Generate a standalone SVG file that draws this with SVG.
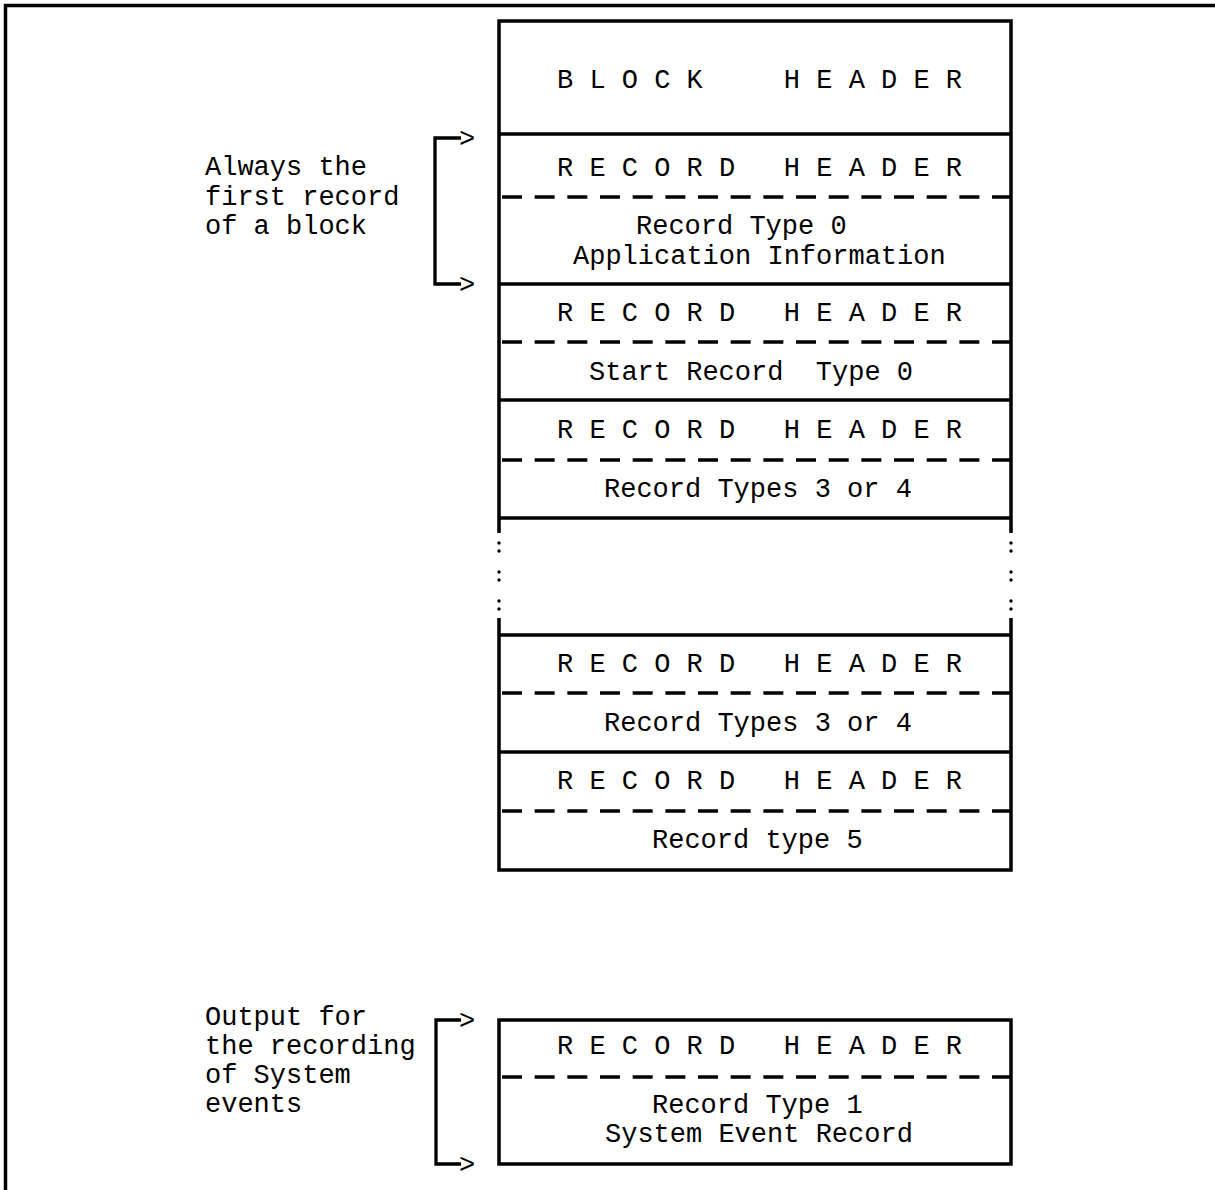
<svg xmlns="http://www.w3.org/2000/svg" width="1215" height="1190" viewBox="0 0 1215 1190">
<style>
text{font-family:"Liberation Mono","Courier New",monospace;font-size:27px;fill:#000;white-space:pre}
.b{stroke:#000;stroke-width:3.5;fill:none}
.d{stroke:#000;stroke-width:3.5;fill:none;stroke-dasharray:20 12.67}
.k{stroke:#000;stroke-width:3.3;fill:none}
.dot{fill:#000}
</style>
<rect width="1215" height="1190" fill="#fff"/>
<path class="b" d="M5.5,1190 V5.5 H1215" stroke-width="3"/>
<g id="block-header">
<path class="b" d="M499,533 V21 H1011 V533 M499,134 H1011"/>
<text x="557" y="88" xml:space="preserve">B L O C K     H E A D E R</text>
</g>
<g id="record-app-info">
<text x="557" y="176" xml:space="preserve">R E C O R D   H E A D E R</text>
<line class="d" x1="502" y1="197" x2="1011" y2="197"/>
<text x="636" y="234">Record Type 0</text>
<text x="573" y="264">Application Information</text>
<line class="b" x1="499" y1="284" x2="1011" y2="284"/>
</g>
<g id="record-start">
<text x="557" y="321" xml:space="preserve">R E C O R D   H E A D E R</text>
<line class="d" x1="502" y1="342" x2="1011" y2="342"/>
<text x="589" y="380" xml:space="preserve">Start Record  Type 0</text>
<line class="b" x1="499" y1="400" x2="1011" y2="400"/>
</g>
<g id="record-3-4-a">
<text x="557" y="438" xml:space="preserve">R E C O R D   H E A D E R</text>
<line class="d" x1="502" y1="460" x2="1011" y2="460"/>
<text x="604" y="497">Record Types 3 or 4</text>
<line class="b" x1="499" y1="518" x2="1011" y2="518"/>
</g>
<g id="gap">
<circle class="dot" cx="499" cy="543" r="1.7"/><circle class="dot" cx="499" cy="551" r="1.7"/>
<circle class="dot" cx="499" cy="572" r="1.7"/><circle class="dot" cx="499" cy="580" r="1.7"/>
<circle class="dot" cx="499" cy="601" r="1.7"/><circle class="dot" cx="499" cy="609" r="1.7"/>
<circle class="dot" cx="1011" cy="543" r="1.7"/><circle class="dot" cx="1011" cy="551" r="1.7"/>
<circle class="dot" cx="1011" cy="572" r="1.7"/><circle class="dot" cx="1011" cy="580" r="1.7"/>
<circle class="dot" cx="1011" cy="601" r="1.7"/><circle class="dot" cx="1011" cy="609" r="1.7"/>
</g>
<g id="record-3-4-b">
<path class="b" d="M499,618 V870 H1011 V618 M499,635 H1011"/>
<text x="557" y="672" xml:space="preserve">R E C O R D   H E A D E R</text>
<line class="d" x1="502" y1="693" x2="1011" y2="693"/>
<text x="604" y="731">Record Types 3 or 4</text>
<line class="b" x1="499" y1="752" x2="1011" y2="752"/>
</g>
<g id="record-5">
<text x="557" y="789" xml:space="preserve">R E C O R D   H E A D E R</text>
<line class="d" x1="502" y1="811" x2="1011" y2="811"/>
<text x="652" y="848">Record type 5</text>
</g>
<g id="record-1">
<rect class="b" x="499" y="1020" width="512" height="144"/>
<text x="557" y="1054" xml:space="preserve">R E C O R D   H E A D E R</text>
<line class="d" x1="502" y1="1077" x2="1011" y2="1077"/>
<text x="652" y="1113">Record Type 1</text>
<text x="605" y="1142">System Event Record</text>
</g>
<g id="note-first">
<text x="205" y="175">Always the</text>
<text x="205" y="205">first record</text>
<text x="205" y="234">of a block</text>
</g>
<g id="note-system">
<text x="205" y="1025">Output for</text>
<text x="205" y="1054">the recording</text>
<text x="205" y="1083">of System</text>
<text x="205" y="1112">events</text>
</g>
<g id="connectors">
<path class="k" d="M461,138 H435 V284 H461"/>
<text x="459" y="147">&gt;</text>
<text x="459" y="293">&gt;</text>
<path class="k" d="M461,1020 H436 V1164 H461"/>
<text x="459" y="1029">&gt;</text>
<text x="459" y="1173">&gt;</text>
</g>
</svg>
